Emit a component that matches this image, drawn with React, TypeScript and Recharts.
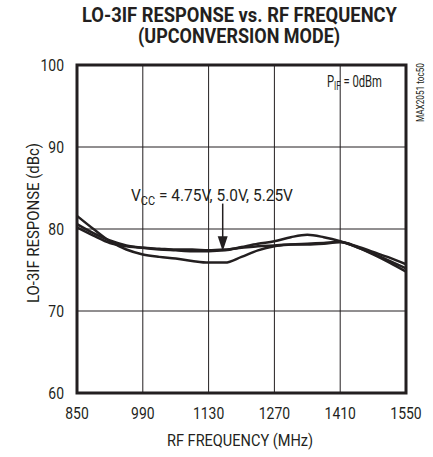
import React, { useLayoutEffect, useRef, useState } from "react";
import { LineChart, Line, XAxis, YAxis, CartesianGrid, ReferenceArea, ReferenceLine, ReferenceDot } from "recharts";

const freqMHz = [850, 885, 920, 955, 990, 1025, 1060, 1095, 1130, 1165, 1200, 1235, 1270, 1305, 1340, 1375, 1410, 1445, 1480, 1515, 1550];
const vcc475 = [81.6, 80.0, 78.5, 77.5, 76.9, 76.6, 76.4, 76.1, 75.9, 75.9, 76.6, 77.4, 77.9, 78.1, 78.2, 78.3, 78.4, 77.8, 76.9, 75.9, 74.8];
const vcc50 = [80.6, 79.5, 78.6, 78.0, 77.7, 77.5, 77.4, 77.3, 77.3, 77.4, 77.8, 78.2, 78.5, 79.0, 79.3, 79.0, 78.5, 77.8, 77.0, 76.1, 75.2];
const vcc525 = [80.2, 79.2, 78.3, 77.9, 77.7, 77.6, 77.5, 77.5, 77.4, 77.5, 77.7, 77.9, 78.0, 78.1, 78.1, 78.2, 78.4, 77.9, 77.2, 76.5, 75.7];
const xTicks = [850, 990, 1130, 1270, 1410, 1550];
const yTicks = [60, 70, 80, 90, 100];

const INK = "#231f20";
const FONT = "Roboto, 'DejaVu Sans', sans-serif";
const NARROW = 0.82;

const data = freqMHz.map((f, i) => ({ f, a: vcc475[i], b: vcc50[i], c: vcc525[i] }));

// arrowhead pointing down, tip at (cx, cy)
const ArrowHead = (props: { cx?: number; cy?: number }) => {
  const { cx = 0, cy = 0 } = props;
  return <path d={`M${cx - 5},${cy - 15} L${cx + 5},${cy - 15} L${cx},${cy} Z`} fill={INK} />;
};

// condensed tick labels (the original uses a narrow Helvetica)
const XTick = (props: any) => {
  const { x, y, payload } = props;
  return (
    <text transform={`translate(${x},${y + 26}) scale(${NARROW},1)`} textAnchor="middle" fontSize={17} fontFamily={FONT} fill={INK}>
      {payload.value}
    </text>
  );
};

const YTick = (props: any) => {
  const { x, y, payload } = props;
  return (
    <text transform={`translate(${x},${y + 6}) scale(${NARROW},1)`} textAnchor="end" fontSize={17} fontFamily={FONT} fill={INK}>
      {payload.value}
    </text>
  );
};

// squeezes a text (with tspans) horizontally to a given width, left-anchored
function FitText({ x, y, width, rotate = 0, fontSize, bold, children }: { x: number; y: number; width: number; rotate?: number; fontSize: number; bold?: boolean; children: React.ReactNode }) {
  const ref = useRef<SVGTextElement>(null);
  const [s, setS] = useState(NARROW);
  useLayoutEffect(() => {
    if (ref.current) {
      const w = ref.current.getBBox().width;
      if (w > 0) setS(width / w);
    }
  }, [width]);
  return (
    <g transform={`translate(${x},${y}) rotate(${rotate}) scale(${s},1)`}>
      <text ref={ref} x={0} y={0} fontSize={fontSize} fontWeight={bold ? "bold" : "normal"} fontFamily={FONT} fill={INK}>
        {children}
      </text>
    </g>
  );
}

export default function App() {
  return (
    <div style={{ position: "absolute", left: 0, top: 0, width: 433, height: 457, background: "#fff" }}>
      <LineChart width={433} height={457} data={data} margin={{ top: 65, right: 27, bottom: 24, left: 30 }}>
        <CartesianGrid stroke={INK} strokeWidth={1} />
        <XAxis
          dataKey="f"
          type="number"
          domain={[850, 1550]}
          ticks={xTicks}
          tick={<XTick />}
          tickLine={false}
          axisLine={false}
          tickSize={0}
          tickMargin={0}
          height={40}
        />
        <YAxis
          type="number"
          domain={[60, 100]}
          ticks={yTicks}
          tick={<YTick />}
          tickLine={false}
          axisLine={false}
          tickSize={0}
          tickMargin={13}
          width={47}
        />
        <Line type="monotone" dataKey="a" stroke={INK} strokeWidth={2.5} dot={false} isAnimationActive={false} />
        <Line type="monotone" dataKey="b" stroke={INK} strokeWidth={2.5} dot={false} isAnimationActive={false} />
        <Line type="monotone" dataKey="c" stroke={INK} strokeWidth={2.5} dot={false} isAnimationActive={false} />
        <ReferenceArea x1={850} x2={1550} y1={60} y2={100} fill="none" stroke={INK} strokeWidth={3} ifOverflow="visible" />
        <ReferenceLine segment={[{ x: 1160, y: 83.1 }, { x: 1160, y: 78.5 }]} stroke={INK} strokeWidth={1.5} />
        <ReferenceDot x={1160} y={77.3} r={0} shape={<ArrowHead />} />
      </LineChart>
      <svg width={433} height={457} style={{ position: "absolute", left: 0, top: 0, pointerEvents: "none" }}>
        <FitText x={82} y={22} width={315} fontSize={21} bold>LO-3IF RESPONSE vs. RF FREQUENCY</FitText>
        <FitText x={138} y={43} width={202} fontSize={21} bold>(UPCONVERSION MODE)</FitText>
        <FitText x={167} y={446} width={146} fontSize={17}>RF FREQUENCY (MHz)</FitText>
        <FitText x={39} y={303} width={160} rotate={-90} fontSize={17}>LO-3IF RESPONSE (dBc)</FitText>
        <FitText x={327} y={87} width={55} fontSize={17}>
          P<tspan fontSize={12} dy={3}>IF</tspan>
          <tspan dy={-3}> = 0dBm</tspan>
        </FitText>
        <FitText x={131} y={201} width={162} fontSize={17}>
          V<tspan fontSize={12} dy={4}>CC</tspan>
          <tspan dy={-4}> = 4.75V, 5.0V, 5.25V</tspan>
        </FitText>
        <FitText x={424} y={122} width={59} rotate={-90} fontSize={10}>MAX2051 toc50</FitText>
      </svg>
    </div>
  );
}
